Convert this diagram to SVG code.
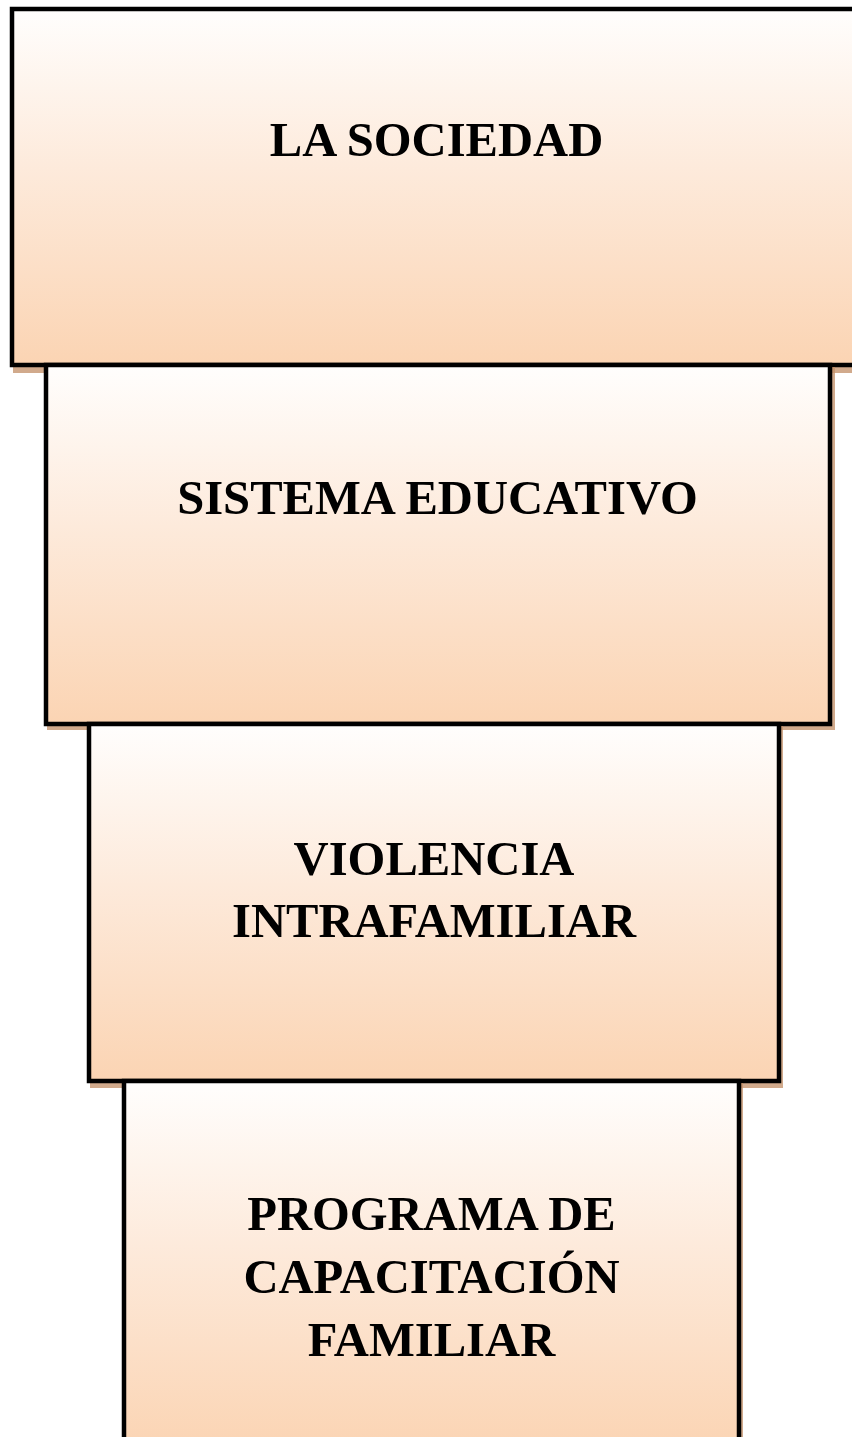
<svg xmlns="http://www.w3.org/2000/svg" width="852" height="1437" viewBox="0 0 852 1437">
  <defs>
    <linearGradient id="peach" x1="0" y1="0" x2="0" y2="1">
      <stop offset="0" stop-color="#fffefd"/>
      <stop offset="0.45" stop-color="#fdeadb"/>
      <stop offset="1" stop-color="#fbd4b3"/>
    </linearGradient>
  </defs>
  <style>
    .box { fill: url(#peach); stroke: #000000; stroke-width: 4.5; }
    .shadow { fill: #c28d66; opacity: 0.75; }
    .label { font-family: "Liberation Serif", "Times New Roman", serif; font-weight: bold; font-size: 48.6px; fill: #000000; text-anchor: middle; }
  </style>
  <rect width="852" height="1437" fill="#ffffff"/>

  <g id="node-sociedad">
    <rect class="shadow" x="13" y="11" width="850" height="362"/>
    <rect class="box" x="12" y="9" width="846" height="356"/>
    <text class="label" x="436.5" y="156">LA SOCIEDAD</text>
  </g>

  <g id="node-sistema">
    <rect class="shadow" x="47" y="367" width="788" height="363"/>
    <rect class="box" x="46" y="365" width="784" height="359"/>
    <text class="label" x="437.5" y="514">SISTEMA EDUCATIVO</text>
  </g>

  <g id="node-violencia">
    <rect class="shadow" x="90" y="726" width="693" height="362"/>
    <rect class="box" x="89" y="724" width="690" height="357"/>
    <text class="label" x="434" y="875">VIOLENCIA</text>
    <text class="label" x="434" y="937">INTRAFAMILIAR</text>
  </g>

  <g id="node-programa">
    <rect class="shadow" x="125" y="1083" width="618" height="372"/>
    <rect class="box" x="124" y="1081" width="615" height="370"/>
    <text class="label" x="431.5" y="1230">PROGRAMA DE</text>
    <text class="label" x="431.5" y="1293">CAPACITACIÓN</text>
    <text class="label" x="431.5" y="1356">FAMILIAR</text>
  </g>

  <g id="connectors"/>
</svg>
